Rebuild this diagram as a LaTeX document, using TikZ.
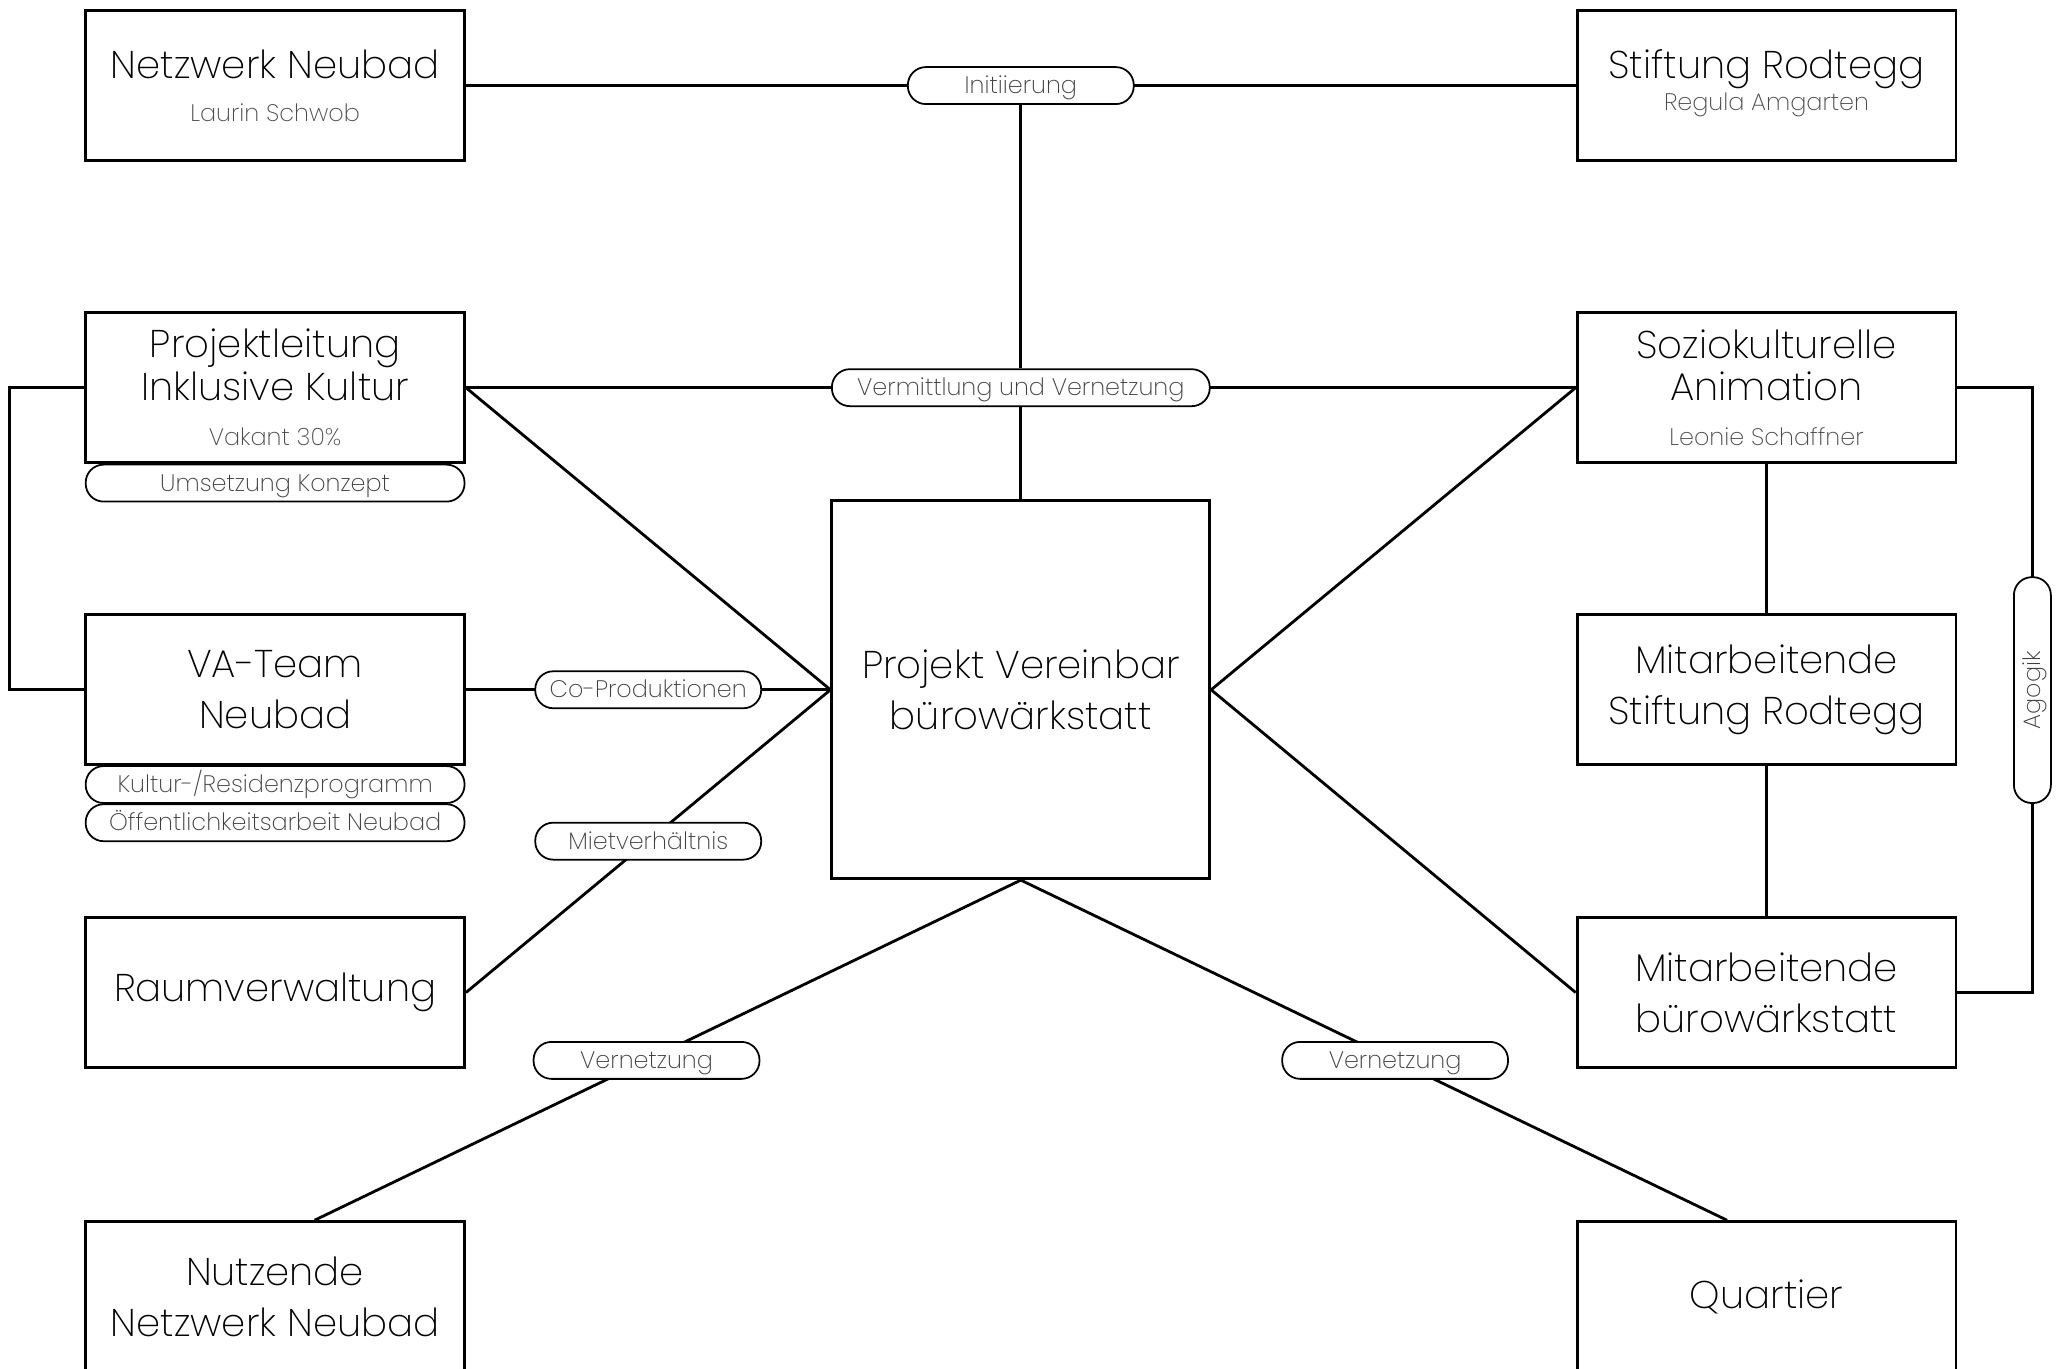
\documentclass[tikz,border=0pt]{standalone}
\usepackage{fontspec}
\setmainfont{Poppins}[UprightFont=* ExtraLight]
\newfontfamily\numfont{Carlito}
\usetikzlibrary{calc}

\newcommand{\bigtext}{\fontsize{11}{14.6}\selectfont}
\newcommand{\subtext}{\fontsize{6.8}{8}\selectfont\color{black!70}}

\tikzset{
  box/.style={draw, line width=0.8pt, minimum width=3.79cm, minimum height=1.5cm,
    align=center, inner sep=0pt, text=black, font=\bigtext},
  pill/.style={draw, line width=0.5pt, fill=white, rounded corners=0.18cm,
    minimum width=2.26cm, minimum height=0.37cm, inner sep=0pt, text=black!75,
    text height=4.6pt, text depth=0pt, font=\fontsize{6.8}{8}\selectfont},
  widepill/.style={pill, minimum width=3.78cm},
  link/.style={line width=0.8pt},
}

\begin{document}
\begin{tikzpicture}[x=0.013163cm, y=-0.013163cm]
            \useasboundingbox (0,0) rectangle (1568,1040);

            \node[box] (netz) at (209,65) {Netzwerk Neubad\\[-2.5pt]{\subtext Laurin Schwob}};
            \node[box, text depth=3pt] (stift) at (1342,65) {Stiftung Rodtegg\\[-5.5pt]{\subtext Regula Amgarten}};
            \node[box, font=\fontsize{11}{12}\selectfont] (proj) at (209,294.5) {Projektleitung\\Inklusive Kultur\\[1pt]{\subtext Vakant 30\%}};
            \node[box, font=\fontsize{11}{12}\selectfont] (soz) at (1342,294.5) {Soziokulturelle\\Animation\\[1pt]{\subtext Leonie Schaffner}};
            \node[box] (va) at (209,524) {VA-Team\\Neubad};
            \node[box] (mst) at (1342,524) {Mitarbeitende\\Stiftung Rodtegg};
            \node[box] (raum) at (209,754) {Raumverwaltung};
            \node[box] (mb) at (1342,754) {Mitarbeitende\\bürowärkstatt};
            \node[box] (nutz) at (209,985) {Nutzende\\Netzwerk Neubad};
            \node[box] (quart) at (1342,985) {Quartier};
            \node[box, minimum width=3.78cm, minimum height=3.78cm] (center) at (775.5,524) {Projekt Vereinbar\\bürowärkstatt};

            % Aufgaben unter den Boxen
            \node[widepill, minimum width=3.79cm] (umsetz) at (209,367) {Umsetzung Konzept};
            \node[widepill, minimum width=3.79cm] (kultur) at (209,596) {Kultur-/Residenzprogramm};
            \node[widepill, minimum width=3.79cm] (oeff) at (209,625) {Öffentlichkeitsarbeit Neubad};

            \path[link] (netz) edge node[pill] (init) {Initiierung} (stift);
            \path[link] (proj) edge node[widepill] (verm) {Vermittlung und Vernetzung} (soz);
            \draw[link] (init) -- (verm);
            \draw[link] (verm) -- (center);

            \path[link] (proj.east) edge (center.west);
            \path[link] (va) edge node[pill] {Co-Produktionen} (center.west);
            \path[link] (raum.east) edge node[pill] {Mietverhältnis} (center.west);
            \path[link] (soz.west) edge (center.east);
            \path[link] (mb.west) edge (center.east);
            \path[link] (center.south) edge node[pill, pos=0.53] {Vernetzung} ($(nutz.north)+(30,0)$);
            \path[link] (center.south) edge node[pill, pos=0.53] {Vernetzung} ($(quart.north)+(-30,0)$);

            \path[link] (soz) edge (mst);
            \path[link] (mst) edge (mb);
            \draw[link] (proj.west) -- ++(-57,0) |- (va.west);
            \draw[link] (soz.east) -- ++(57,0) coordinate (agR) -- node[pill, rotate=90] {Agogik} (agR |- mb.east) -- (mb.east);

            \node[anchor=north, font=\numfont\bfseries\fontsize{9}{10}\selectfont] (seite) at (1473,1036) {22};
\end{tikzpicture}
\end{document}
